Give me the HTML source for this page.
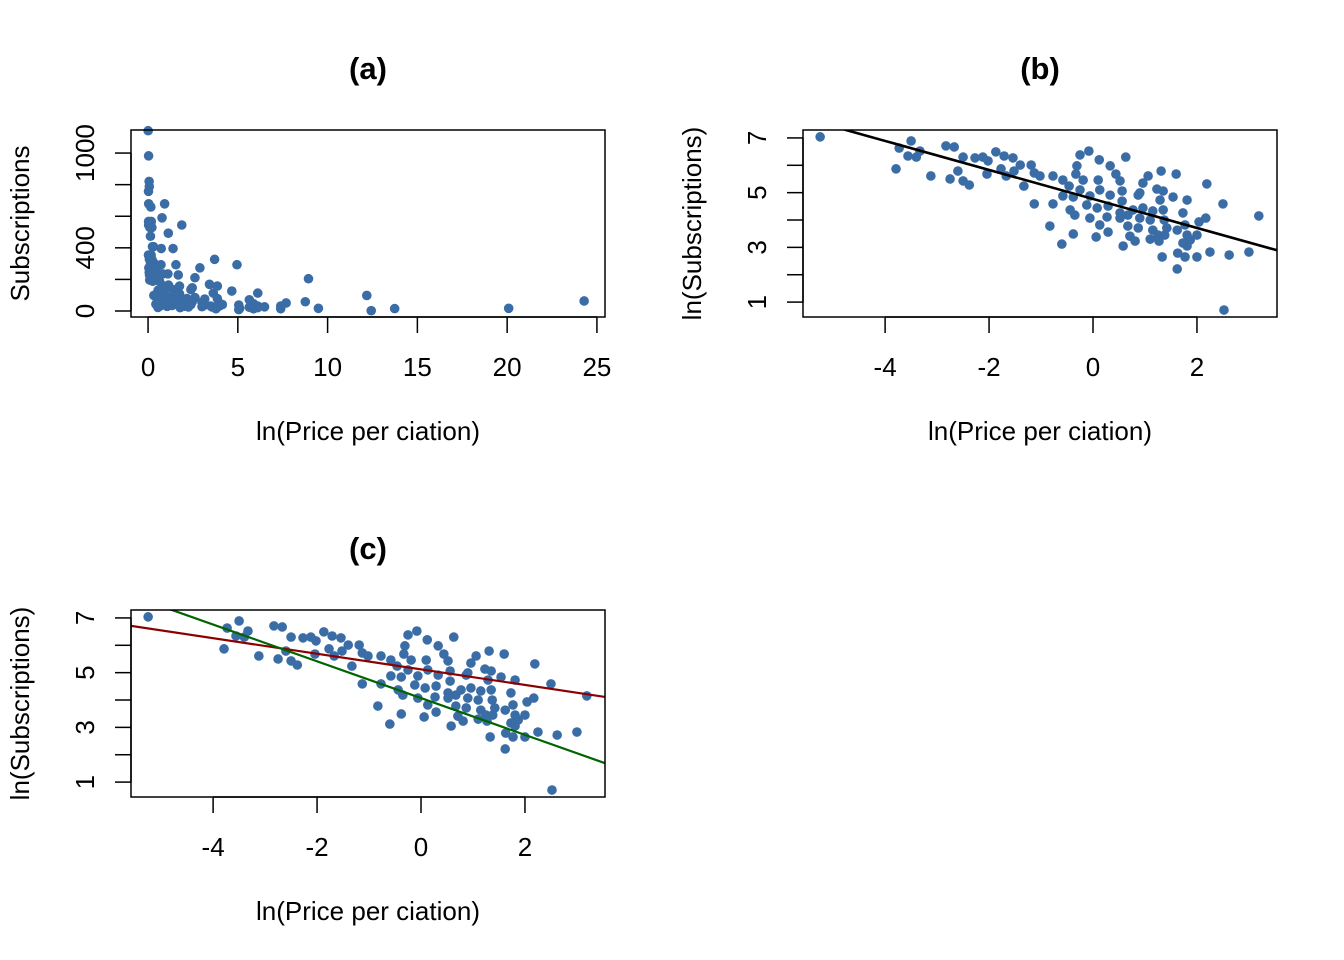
<!DOCTYPE html>
<html><head><meta charset="utf-8"><style>
html,body{margin:0;padding:0;background:#fff;}
svg{display:block;font-family:"Liberation Sans",Arial,sans-serif;}
</style></head><body>
<svg id="fig" width="1344" height="960" viewBox="0 0 1344 960"></svg>
<script>
// log price per citation
const lnPrice = [-5.25,-3.73,-3.50,-3.56,-3.40,-3.33,-3.79,-3.12,-2.83,-2.67,-2.50,-2.60,-2.75,-2.50,-2.38,-2.27,-2.12,-2.02,-1.87,-1.71,-1.54,-1.40,-2.04,-1.77,-1.67,-1.52,-1.19,-1.13,-1.02,-1.33,-1.13,
-0.25,-0.08,0.12,0.63,0.33,-0.31,-0.33,0.44,-0.77,-0.58,-0.19,0.10,0.52,1.06,1.31,1.60,2.19,0.96,-0.46,-0.25,0.13,0.56,0.90,1.23,1.35,-0.58,-0.38,-0.06,0.33,0.87,1.54,1.29,1.81,2.50,-0.77,-0.12,0.29,0.56,0.77,0.96,1.15,1.35,-0.44,0.08,0.52,-0.35,-0.06,0.27,0.52,0.67,0.90,1.10,1.37,1.73,2.17,2.04,3.19,-0.83,0.13,0.67,0.87,1.15,1.42,1.62,1.77,-0.38,0.06,0.29,0.71,1.10,1.25,1.38,1.81,2.00,0.81,1.27,1.73,1.87,-0.60,0.58,1.81,1.33,1.63,1.77,2.00,2.25,2.62,3.00,1.62,2.52];
// log subscriptions
const lnSubs = [7.04,6.63,6.89,6.34,6.30,6.52,5.87,5.61,6.71,6.67,6.30,5.79,5.50,5.43,5.28,6.27,6.30,6.16,6.49,6.34,6.27,6.01,5.68,5.87,5.61,5.79,6.01,5.72,5.61,5.24,4.59,
6.38,6.52,6.20,6.30,5.98,5.98,5.68,5.68,5.61,5.46,5.46,5.46,5.43,5.61,5.79,5.68,5.32,5.35,5.24,5.10,5.10,5.06,4.99,5.13,5.06,4.88,4.84,4.88,4.91,4.91,4.84,4.73,4.73,4.59,4.59,4.55,4.51,4.69,4.37,4.44,4.33,4.37,4.37,4.44,4.26,4.18,4.07,4.11,4.07,4.18,4.07,4.00,4.00,4.26,4.07,3.93,4.15,3.78,3.82,3.78,3.71,3.63,3.71,3.63,3.82,3.49,3.38,3.56,3.41,3.30,3.45,3.45,3.45,3.45,3.23,3.23,3.16,3.27,3.12,3.05,3.05,2.65,2.79,2.65,2.65,2.83,2.72,2.83,2.21,0.71];
// regression lines [intercept, slope]
const lineB = [4.77,-0.53];
const lineCred = [5.12,-0.285];
const lineCgreen = [4.07,-0.672];
const ticksAx = [0,5,10,15,20,25];
const ticksAy = [0,200,400,600,800,1000];
const labelsAy = ["0","","400","","","1000"];
const ticksBx = [-4,-2,0,2];
const ticksBy = [1,2,3,4,5,6,7];
const labelsBy = ["1","","3","","5","","7"];

const NS="http://www.w3.org/2000/svg";
const svg=document.getElementById('fig');
function el(tag,attrs,parent){const e=document.createElementNS(NS,tag);for(const k in attrs)e.setAttribute(k,attrs[k]);(parent||svg).appendChild(e);return e;}
function scale(d0,d1,r0,r1){return v=>r0+(v-d0)/(d1-d0)*(r1-r0);}
const PT="#3a6ca6";
const FS=26;

function panel(o){
  const g=el('g',{});
  
  
  const {L,T,R,B}=o;
  const sx=scale(o.xd[0],o.xd[1],L,R), sy=scale(o.yd[0],o.yd[1],B,T);
  const t=el('text',{x:(L+R)/2,y:T-51,'text-anchor':'middle','font-size':31,'font-weight':'bold'},g);
  t.textContent=o.title;
  
  
  const pg=el('g',{fill:PT},g);
  
  
  for(let i=0;i<o.xs.length;i++){
    const c=el('circle',{cx:sx(o.xs[i]),cy:sy(o.ys[i]),r:4.8},pg);
    
    
  }
  (o.lines||[]).forEach(ln=>{
    const x0=o.xd[0],x1=o.xd[1];
    const cp=el('clipPath',{id:'cp'+o.name},g);
    el('rect',{x:L,y:T,width:R-L,height:B-T},cp);
    const l=el('line',{x1:sx(x0),y1:sy(ln.c[0]+ln.c[1]*x0),x2:sx(x1),y2:sy(ln.c[0]+ln.c[1]*x1),stroke:ln.col,'stroke-width':ln.w,'clip-path':'url(#cp'+o.name+')'},g);
    
    
  });
  const box=el('rect',{x:L,y:T,width:R-L,height:B-T,fill:'none',stroke:'#000','stroke-width':1.5},g);
  
  
  const xa=el('g',{},g);
  
  
  el('line',{x1:sx(o.xt[0]),y1:B,x2:sx(o.xt[o.xt.length-1]),y2:B,stroke:'#000','stroke-width':1.5},xa);
  o.xt.forEach(v=>{
    el('line',{x1:sx(v),y1:B,x2:sx(v),y2:B+16,stroke:'#000','stroke-width':1.5},xa);
    const tx=el('text',{x:sx(v),y:B+59,'text-anchor':'middle','font-size':FS},xa);
    tx.textContent=v<0?'-'+(-v):String(v);
    
    
  });
  const xt=el('text',{x:(L+R)/2,y:B+123,'text-anchor':'middle','font-size':FS},g);
  xt.textContent='ln(Price per ciation)';
  
  
  const ya=el('g',{},g);
  
  
  el('line',{x1:L,y1:sy(o.yt[0]),x2:L,y2:sy(o.yt[o.yt.length-1]),stroke:'#000','stroke-width':1.5},ya);
  o.yt.forEach((v,i)=>{
    el('line',{x1:L-16,y1:sy(v),x2:L,y2:sy(v),stroke:'#000','stroke-width':1.5},ya);
    if(o.yl[i]){
      const ty=el('text',{x:0,y:0,'text-anchor':'middle','font-size':FS,transform:`translate(${L-37},${sy(v)}) rotate(-90)`},ya);
      ty.textContent=o.yl[i];
      
      
    }
  });
  const yt=el('text',{x:0,y:0,'text-anchor':'middle','font-size':FS,transform:`translate(${L-102},${(T+B)/2}) rotate(-90)`},g);
  yt.textContent=o.ytitle;
  
  
}

panel({name:'panel-a',title:'(a)',L:131,T:130,R:605,B:317,xd:[-0.95,25.45],yd:[-38,1146],
  xs:lnPrice.map(Math.exp),ys:lnSubs.map(Math.exp),xt:ticksAx,yt:ticksAy,yl:labelsAy,ytitle:'Subscriptions'});
panel({name:'panel-b',title:'(b)',L:803,T:130,R:1277,B:317,xd:[-5.58,3.54],yd:[0.455,7.29],
  xs:lnPrice,ys:lnSubs,xt:ticksBx,yt:ticksBy,yl:labelsBy,ytitle:'ln(Subscriptions)',
  lines:[{c:lineB,col:'#000',w:2.6,name:'fit-line'}]});
panel({name:'panel-c',title:'(c)',L:131,T:610,R:605,B:797,xd:[-5.58,3.54],yd:[0.455,7.29],
  xs:lnPrice,ys:lnSubs,xt:ticksBx,yt:ticksBy,yl:labelsBy,ytitle:'ln(Subscriptions)',
  lines:[{c:lineCred,col:'#8b0000',w:2.2,name:'fit-line-red'},{c:lineCgreen,col:'#006400',w:2.2,name:'fit-line-green'}]});
</script>
</body></html>
